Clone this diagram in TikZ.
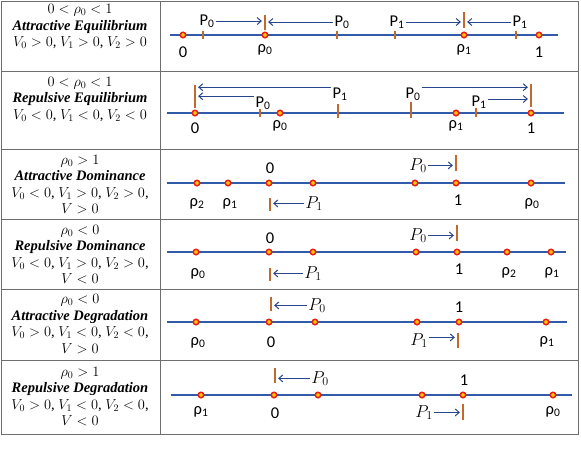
\documentclass[tikz,border=0pt]{standalone}
\usepackage{amsmath}
\usepackage{fontspec}
\setmainfont{Liberation Serif}
\newfontfamily\calfont{Carlito}
\usetikzlibrary{arrows.meta,positioning}

\definecolor{azul}{RGB}{50,90,170}
\definecolor{flecha}{RGB}{40,70,140}
\definecolor{barra}{RGB}{195,105,45}
\definecolor{rojo}{RGB}{235,30,20}
\definecolor{amarillo}{RGB}{255,200,0}
\definecolor{rejilla}{RGB}{110,110,110}

\newcommand{\plab}[1]{P\textsubscript{#1}}
\newcommand{\rlab}[1]{ρ\textsubscript{#1}}

\begin{document}
\begin{tikzpicture}[x=1pt,y=-1pt,
  every node/.style={inner sep=0pt},
  celda/.style={align=center, font=\fontsize{14.5}{16.5}\selectfont},
  lab/.style={anchor=base, font=\calfont\fontsize{16.5}{19}\selectfont},
  numline/.style={draw=azul, line width=1.8pt},
  dot/.style={circle, draw=rojo, fill=amarillo, line width=1.5pt, minimum size=5.5pt},
  tickmark/.style={rectangle, fill=barra, minimum width=1.3pt, minimum height=8pt},
  bigbar/.style={rectangle, fill=barra, minimum width=1.8pt},
  arr/.style={draw=flecha, line width=1pt, -{Straight Barb[length=4pt,width=7pt]}, shorten >=2pt, shorten <=1.5pt},
  grid/.style={draw=rejilla, line width=0.9pt}]
\useasboundingbox (0,0) rectangle (581,450);

\draw[grid] (1,1) rectangle (578,434);
\draw[grid] (160,1) -- (160,434);
\draw[grid] (1,71) -- (578,71);
\draw[grid] (1,149) -- (578,149);
\draw[grid] (1,219) -- (578,219);
\draw[grid] (1,289) -- (578,289);
\draw[grid] (1,360) -- (578,360);

\node[celda] (txt-ae) at (80,26.5) {$0<\rho_0<1$\\ \textbf{\textit{Attractive Equilibrium}}\\ $V_0>0$, $V_1>0$, $V_2>0$};
\node[celda] (txt-re) at (80,99) {$0<\rho_0<1$\\ \textbf{\textit{Repulsive Equilibrium}}\\ $V_0<0$, $V_1<0$, $V_2<0$};
\node[celda] (txt-ad) at (80,184.5) {$\rho_0>1$\\ \textbf{\textit{Attractive Dominance}}\\ $V_0<0$, $V_1>0$, $V_2>0$,\\ $V>0$};
\node[celda] (txt-rd) at (80,254.5) {$\rho_0<0$\\ \textbf{\textit{Repulsive Dominance}}\\ $V_0<0$, $V_1>0$, $V_2>0$,\\ $V<0$};
\node[celda] (txt-ag) at (80,324) {$\rho_0<0$\\ \textbf{\textit{Attractive Degradation}}\\ $V_0>0$, $V_1<0$, $V_2<0$,\\ $V>0$};
\node[celda] (txt-rg) at (80,396.5) {$\rho_0>1$\\ \textbf{\textit{Repulsive Degradation}}\\ $V_0>0$, $V_1<0$, $V_2<0$,\\ $V<0$};

% attractive equilibrium
\coordinate (ae-a) at (170,35);
\coordinate (ae-b) at (558,35);
\draw[numline] (ae-a) -- (ae-b);
\node[tickmark] (ae-t1) at (203,35) {};
\node[tickmark] (ae-t2) at (337,35) {};
\node[tickmark] (ae-t3) at (395,35) {};
\node[tickmark] (ae-t4) at (516,35) {};
\node[bigbar, minimum height=15pt] (ae-b0) at (265,22.5) {};
\node[bigbar, minimum height=16pt] (ae-b1) at (464,20) {};
\node[dot] (ae-0) at (183,35) {};
\node[dot] (ae-r0) at (265,35) {};
\node[dot] (ae-r1) at (464,35) {};
\node[dot] (ae-1) at (539,35) {};
\node[lab] (ae-n0) at (183,57) {0};
\node[lab] (ae-nr0) at (265,52) {\rlab{0}};
\node[lab] (ae-nr1) at (464,52) {\rlab{1}};
\node[lab] (ae-n1) at (539,57) {1};
\node[lab] (ae-p0a) at (207,25) {\plab{0}};
\node[lab] (ae-p0b) at (342,26) {\plab{0}};
\node[lab] (ae-p1a) at (397,26) {\plab{1}};
\node[lab] (ae-p1b) at (520,26) {\plab{1}};
\draw[arr] (ae-p0a.east) -- (ae-p0a.east -| ae-b0.west);
\draw[arr] (ae-p0b.west) -- (ae-p0b.west -| ae-b0.east);
\draw[arr] (ae-p1a.east) -- (ae-p1a.east -| ae-b1.west);
\draw[arr] (ae-p1b.west) -- (ae-p1b.west -| ae-b1.east);

% repulsive equilibrium
\coordinate (re-a) at (167,113);
\coordinate (re-b) at (564,113);
\draw[numline] (re-a) -- (re-b);
\node[tickmark] (re-t1) at (260,113) {};
\node[tickmark, minimum height=14pt] (re-t2) at (338,111) {};
\node[tickmark, minimum height=16pt] (re-t3) at (411,110) {};
\node[tickmark, minimum height=9pt] (re-t4) at (476,112.5) {};
\node[bigbar, minimum height=23pt] (re-b0) at (195,96.5) {};
\node[bigbar, minimum height=23pt] (re-b1) at (531,95.5) {};
\node[dot] (re-0) at (195,113) {};
\node[dot] (re-r0) at (280,113) {};
\node[dot] (re-r1) at (456,113) {};
\node[dot] (re-1) at (531,113) {};
\node[lab] (re-n0) at (195,133) {0};
\node[lab] (re-nr0) at (280,128) {\rlab{0}};
\node[lab] (re-nr1) at (456,128) {\rlab{1}};
\node[lab] (re-n1) at (531,133) {1};
\node[lab] (re-p0a) at (263,107) {\plab{0}};
\node[lab] (re-p1a) at (340,98) {\plab{1}};
\node[lab] (re-p0b) at (413,98) {\plab{0}};
\node[lab] (re-p1b) at (479,106) {\plab{1}};
\draw[arr] (re-p1a.north west) -- (re-p1a.north west -| re-b0.east);
\draw[arr] (re-p0a.north west) -- (re-p0a.north west -| re-b0.east);
\draw[arr] (re-p0b.north east) -- (re-p0b.north east -| re-b1.west);
\draw[arr] ([yshift=3pt]re-p1b.east) -- ([yshift=3pt]re-p1b.east -| re-b1.west);

% attractive dominance
\coordinate (ad-a) at (167,183);
\coordinate (ad-b) at (565,183);
\draw[numline] (ad-a) -- (ad-b);
\node[bigbar, minimum height=13pt] (ad-b0) at (270,204.5) {};
\node[bigbar, minimum height=16pt] (ad-b1) at (456,163) {};
\node[dot] (ad-r2) at (197,183) {};
\node[dot] (ad-r1) at (228,183) {};
\node[dot] (ad-0) at (269,183) {};
\node[dot] (ad-x1) at (313,183) {};
\node[dot] (ad-x2) at (415,183) {};
\node[dot] (ad-1) at (456,183) {};
\node[dot] (ad-r0) at (531,183) {};
\node[lab] (ad-nr2) at (197,206) {\rlab{2}};
\node[lab] (ad-nr1) at (230,206) {\rlab{1}};
\node[lab] (ad-n0) at (270,173) {0};
\node[lab] (ad-n1) at (458,205) {1};
\node[lab] (ad-nr0) at (532,206) {\rlab{0}};
\node[lab] (ad-p1) at (314,208) {$P_1$};
\node[lab] (ad-p0) at (418,170) {$P_0$};
\draw[arr] (ad-p1.west) -- (ad-p1.west -| ad-b0.east);
\draw[arr] (ad-p0.east) -- (ad-p0.east -| ad-b1.west);

% repulsive dominance
\coordinate (rd-a) at (167,252);
\coordinate (rd-b) at (566,252);
\draw[numline] (rd-a) -- (rd-b);
\node[bigbar, minimum height=13pt] (rd-b0) at (270,274.5) {};
\node[bigbar, minimum height=16pt] (rd-b1) at (457,233) {};
\node[dot] (rd-r0) at (196,252) {};
\node[dot] (rd-0) at (269,252) {};
\node[dot] (rd-x1) at (313,252) {};
\node[dot] (rd-x2) at (416,252) {};
\node[dot] (rd-1) at (457,252) {};
\node[dot] (rd-r2) at (507,252) {};
\node[dot] (rd-r1) at (551,252) {};
\node[lab] (rd-nr0) at (198,276) {\rlab{0}};
\node[lab] (rd-n0) at (270,243) {0};
\node[lab] (rd-n1) at (459,274) {1};
\node[lab] (rd-nr2) at (509,275) {\rlab{2}};
\node[lab] (rd-nr1) at (552,275) {\rlab{1}};
\node[lab] (rd-p1) at (313,278) {$P_1$};
\node[lab] (rd-p0) at (418,240) {$P_0$};
\draw[arr] (rd-p1.west) -- (rd-p1.west -| rd-b0.east);
\draw[arr] (rd-p0.east) -- (rd-p0.east -| rd-b1.west);

% attractive degradation
\coordinate (ag-a) at (167,322);
\coordinate (ag-b) at (567,322);
\draw[numline] (ag-a) -- (ag-b);
\node[bigbar, minimum height=14pt] (ag-b0) at (271,304) {};
\node[bigbar, minimum height=15pt] (ag-b1) at (458,340.5) {};
\node[dot] (ag-r0) at (196,322) {};
\node[dot] (ag-0) at (269,322) {};
\node[dot] (ag-x1) at (315,322) {};
\node[dot] (ag-x2) at (417,322) {};
\node[dot] (ag-1) at (459,322) {};
\node[dot] (ag-r1) at (546,322) {};
\node[lab] (ag-nr0) at (198,345) {\rlab{0}};
\node[lab] (ag-n0) at (271,347) {0};
\node[lab] (ag-n1) at (459,312) {1};
\node[lab] (ag-nr1) at (547,344) {\rlab{1}};
\node[lab] (ag-p0) at (317,310) {$P_0$};
\node[lab] (ag-p1) at (419,345) {$P_1$};
\draw[arr] (ag-p0.west) -- (ag-p0.west -| ag-b0.east);
\draw[arr] ([yshift=3pt]ag-p1.east) -- ([yshift=3pt]ag-p1.east -| ag-b1.west);

% repulsive degradation
\coordinate (rg-a) at (171,395);
\coordinate (rg-b) at (572,395);
\draw[numline] (rg-a) -- (rg-b);
\node[bigbar, minimum height=15pt] (rg-b0) at (275,375.5) {};
\node[bigbar, minimum height=16pt] (rg-b1) at (463,412) {};
\node[dot] (rg-r1) at (201,395) {};
\node[dot] (rg-0) at (274,395) {};
\node[dot] (rg-x1) at (318,395) {};
\node[dot] (rg-x2) at (422,395) {};
\node[dot] (rg-1) at (463,395) {};
\node[dot] (rg-r0) at (553,395) {};
\node[lab] (rg-nr1) at (201,414) {\rlab{1}};
\node[lab] (rg-n0) at (275,418) {0};
\node[lab] (rg-n1) at (464,385) {1};
\node[lab] (rg-nr0) at (553,414) {\rlab{0}};
\node[lab] (rg-p0) at (320,383) {$P_0$};
\node[lab] (rg-p1) at (424,417) {$P_1$};
\draw[arr] (rg-p0.west) -- (rg-p0.west -| rg-b0.east);
\draw[arr] (rg-p1.east) -- (rg-p1.east -| rg-b1.west);
\end{tikzpicture}
\end{document}
